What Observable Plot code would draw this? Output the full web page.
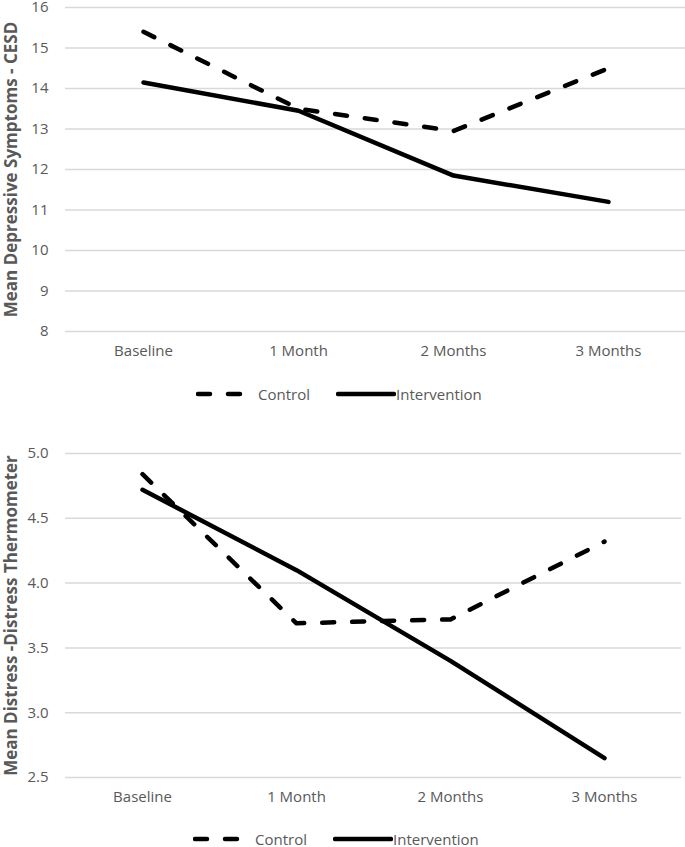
<!DOCTYPE html>
<html>
<head>
<meta charset="utf-8">
<script src="https://cdn.jsdelivr.net/npm/d3@7"></script>
<script src="https://cdn.jsdelivr.net/npm/@observablehq/plot@0.6"></script>
<style>
  html, body { margin: 0; padding: 0; background: #fff; overflow: hidden; }
  body { width: 685px; height: 847px; font-family: "Open Sans", sans-serif; }
  .legend { position: relative; width: 685px; }
  .legend .item { position: absolute; display: flex; align-items: center; font-size: 15px; color: #595959; }
  .legend svg { display: block; }
  svg.plot text { fill: #595959; }
</style>
</head>
<body>
<div id="chart"></div>
<script>
// ---- data ----
const categories = ["Baseline", "1 Month", "2 Months", "3 Months"];
const seriesNames = ["Control", "Intervention"];
const cesdControl = [15.4, 13.5, 12.95, 14.5];
const cesdIntervention = [14.15, 13.45, 11.85, 11.2];
const cesdTicks = [8, 9, 10, 11, 12, 13, 14, 15, 16];
const dtControl = [4.84, 3.69, 3.72, 4.32];
const dtIntervention = [4.72, 4.1, 3.4, 2.65];
const dtTicks = [2.5, 3.0, 3.5, 4.0, 4.5, 5.0];

const DASH = "12,18";

function makePanel({control, intervention, ticks, fmt, label, height, marginTop, marginBottom, marginRight}) {
  const rows = [];
  categories.forEach((c, i) => {
    rows.push({cat: c, series: seriesNames[0], value: control[i]});
    rows.push({cat: c, series: seriesNames[1], value: intervention[i]});
  });
  return Plot.plot({
    width: 685,
    height,
    marginLeft: 65,
    marginRight,
    marginTop,
    marginBottom,
    className: "plot",
    style: {fontFamily: "'Open Sans', sans-serif", fontSize: "15px", color: "#595959", background: "#fff", overflow: "visible"},
    x: {type: "point", domain: categories, padding: 0.5, label: null},
    y: {domain: [ticks[0], ticks[ticks.length - 1]], ticks, label},
    marks: [
      Plot.ruleY(ticks, {stroke: "#d9d9d9", strokeWidth: 1.5}),
      Plot.axisX({tickSize: 0, tickPadding: 14, fontSize: 15, label: null}),
      Plot.axisY({ticks, tickSize: 0, tickPadding: 17, fontSize: 15, tickFormat: fmt,
                  label, labelAnchor: "center", labelArrow: "none", labelOffset: 61}),
      Plot.line(rows.filter(d => d.series === "Control"), {
        x: "cat", y: "value", stroke: "#000", strokeWidth: 4.5,
        strokeDasharray: DASH, strokeLinecap: "round", strokeLinejoin: "round"
      }),
      Plot.line(rows.filter(d => d.series === "Intervention"), {
        x: "cat", y: "value", stroke: "#000", strokeWidth: 4.5,
        strokeLinecap: "round", strokeLinejoin: "round"
      })
    ]
  });
}

function makeLegend(height, offset) {
  const div = document.createElement("div");
  div.className = "legend";
  div.style.height = height + "px";
  const mid = height / 2;
  const items = [
    {name: seriesNames[0], x: 196 + offset, w: 54, dash: DASH},
    {name: seriesNames[1], x: 336 + offset, w: 56, dash: null}
  ];
  for (const it of items) {
    const el = document.createElement("div");
    el.className = "item";
    el.style.left = it.x + "px";
    el.style.top = (mid - 12) + "px";
    el.style.height = "24px";
    const s = d3.create("svg").attr("width", it.w + 4).attr("height", 10);
    s.append("line").attr("x1", 2).attr("x2", it.w + 2).attr("y1", 5).attr("y2", 5)
      .attr("stroke", "#000").attr("stroke-width", 4.5).attr("stroke-linecap", "round")
      .attr("stroke-dasharray", it.dash);
    el.appendChild(s.node());
    const t = document.createElement("span");
    t.textContent = it.name;
    t.style.marginLeft = it.dash ? "4px" : "0px";
    el.appendChild(t);
    div.appendChild(el);
  }
  return div;
}

const root = document.getElementById("chart");
root.appendChild(makePanel({
  control: cesdControl, intervention: cesdIntervention, ticks: cesdTicks,
  fmt: d => String(d), label: "Mean Depressive Symptoms - CESD",
  height: 372, marginTop: 7, marginBottom: 41, marginRight: 0
}));
root.appendChild(makeLegend(44, 0));
root.appendChild(makePanel({
  control: dtControl, intervention: dtIntervention, ticks: dtTicks,
  fmt: d3.format(".1f"), label: "Mean Distress -Distress Thermometer",
  height: 401, marginTop: 37, marginBottom: 40, marginRight: 4
}));
root.appendChild(makeLegend(44, -3));

// bold axis titles
document.querySelectorAll("svg.plot [aria-label='y-axis label'] text").forEach(t => {
  t.setAttribute("font-weight", "bold");
  t.setAttribute("font-size", "17");
});
</script>
</body>
</html>
